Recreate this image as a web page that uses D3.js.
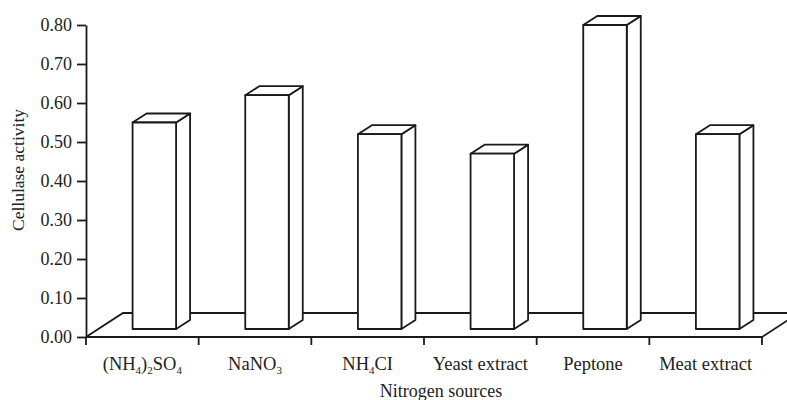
<!DOCTYPE html>
<html>
<head>
<meta charset="utf-8">
<script src="https://cdn.jsdelivr.net/npm/d3@7"></script>
<style>
  body { margin: 0; background: #fff; }
  svg { display: block; font-family: 'Liberation Serif', 'Times New Roman', serif; }
</style>
</head>
<body>
<svg id="chart"></svg>
<script>
// Data
const categories = ['(NH4)2SO4', 'NaNO3', 'NH4CI', 'Yeast extract', 'Peptone', 'Meat extract'];
const activity = [0.55, 0.62, 0.52, 0.47, 0.80, 0.52];
const yTicks = [0, 0.1, 0.2, 0.3, 0.4, 0.5, 0.6, 0.7, 0.8];

const width = 787, height = 400;
const margin = {top: 25, right: 25, bottom: 63, left: 86};

// 3D look: floor depth and bar depth offsets
const floor = {dx: 37, dy: -24};
const barDepth = {dx: 14, dy: -9};
const barInset = {dx: 12, dy: -8};
const barWidth = 43.5;

const svg = d3.select('#chart')
  .attr('width', width)
  .attr('height', height);

const x = d3.scaleBand()
  .domain(categories)
  .range([margin.left, width - margin.right])
  .padding(0);

const y = d3.scaleLinear()
  .domain([0, 0.8])
  .range([height - margin.bottom, margin.top]);

const y0 = y(0);
const xEnd = x.range()[1];

// Floor (drawn first, bars hide its back edge)
svg.append('path')
  .attr('d', `M${margin.left},${y0} L${margin.left + floor.dx},${y0 + floor.dy}
    L${xEnd + floor.dx},${y0 + floor.dy} L${xEnd},${y0}`)
  .attr('fill', 'none')
  .attr('stroke', '#1a1a1a')
  .attr('stroke-width', 1.8);

// Bars
const bars = svg.append('g')
  .selectAll('g')
  .data(categories.map((c, i) => ({c, v: activity[i]})))
  .join('g');

const geom = d => {
  const x0 = x(d.c) + (x.bandwidth() - barWidth) / 2 + barInset.dx;
  const x1 = x0 + barWidth;
  const top = y(d.v);
  const bot = y0 + barInset.dy;
  return {x0, x1, top, bot};
};

bars.append('path')
  .attr('d', d => {
    const g = geom(d);
    return `M${g.x1},${g.top} L${g.x1 + barDepth.dx},${g.top + barDepth.dy}
      L${g.x1 + barDepth.dx},${g.bot + barDepth.dy} L${g.x1},${g.bot} Z`;
  });

bars.append('path')
  .attr('d', d => {
    const g = geom(d);
    return `M${g.x0},${g.top} L${g.x0 + barDepth.dx},${g.top + barDepth.dy}
      L${g.x1 + barDepth.dx},${g.top + barDepth.dy} L${g.x1},${g.top} Z`;
  });

bars.append('rect')
  .attr('x', d => geom(d).x0)
  .attr('y', d => geom(d).top)
  .attr('width', barWidth)
  .attr('height', d => geom(d).bot - geom(d).top);

bars.selectAll('path, rect')
  .attr('fill', '#fff')
  .attr('stroke', '#1a1a1a')
  .attr('stroke-width', 1.8)
  .attr('stroke-linejoin', 'round');

// Y axis
const yAxis = svg.append('g')
  .attr('transform', `translate(${margin.left},0)`)
  .call(d3.axisLeft(y).tickValues(yTicks).tickFormat(d3.format('.2f'))
    .tickSize(9).tickPadding(5).tickSizeOuter(0));
yAxis.select('.domain').attr('stroke', '#1a1a1a').attr('stroke-width', 1.8);
yAxis.selectAll('line').attr('stroke', '#1a1a1a').attr('stroke-width', 1.8);
yAxis.selectAll('text')
  .attr('fill', '#222')
  .style('font-family', "'Liberation Serif', 'Times New Roman', serif")
  .style('font-size', '18px');

// X axis: line plus ticks on band edges
const xAxis = svg.append('g');
xAxis.append('line')
  .attr('x1', margin.left).attr('x2', xEnd)
  .attr('y1', y0).attr('y2', y0)
  .attr('stroke', '#1a1a1a')
  .attr('stroke-width', 1.8);

xAxis.selectAll('.edge')
  .data(categories.map(c => x(c)).concat([xEnd]))
  .join('line')
    .attr('class', 'edge')
    .attr('x1', d => d).attr('x2', d => d)
    .attr('y1', y0).attr('y2', y0 + 8)
    .attr('stroke', '#1a1a1a')
    .attr('stroke-width', 1.8);

// Category labels, digits as subscripts
const labels = xAxis.selectAll('.cat')
  .data(categories)
  .join('text')
    .attr('class', 'cat')
    .attr('x', d => x(d) + x.bandwidth() / 2)
    .attr('y', y0 + 33)
    .attr('text-anchor', 'middle')
    .attr('fill', '#222')
    .style('font-size', '18.5px');

labels.each(function(d) {
  const t = d3.select(this);
  let sub = false;
  d.split(/(\d)/).filter(s => s.length).forEach(part => {
    const isDigit = /\d/.test(part);
    const span = t.append('tspan').text(part);
    if (isDigit) {
      span.attr('dy', 4).style('font-size', '11px');
      sub = true;
    } else if (sub) {
      span.attr('dy', -4);
      sub = false;
    }
  });
});

// Axis titles
svg.append('text')
  .attr('x', 441)
  .attr('y', 397)
  .attr('text-anchor', 'middle')
  .attr('fill', '#222')
  .style('font-size', '18px')
  .text('Nitrogen sources');

svg.append('text')
  .attr('transform', 'translate(24,170) rotate(-90)')
  .attr('text-anchor', 'middle')
  .attr('fill', '#222')
  .style('font-size', '17.5px')
  .text('Cellulase activity');
</script>
</body>
</html>
